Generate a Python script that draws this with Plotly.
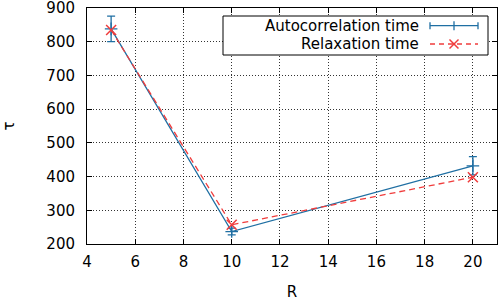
import plotly.graph_objects as go

R = [5, 10, 20]
auto_tau = [838, 237, 432]
auto_err = [38, 10, 27]
relax_tau = [835, 257, 398]
series_names = ["Autocorrelation time", "Relaxation time"]

BLUE = "#1f6fa3"
RED = "#f03c3c"
FONT = "DejaVu Sans, Liberation Sans, Arial, sans-serif"
W, H = 499, 307
ML, MR, MT, MB = 87, 2, 8, 63

fig = go.Figure()
fig.add_trace(go.Scatter(
    x=R, y=auto_tau, name=series_names[0], mode="lines+markers",
    line=dict(color=BLUE, width=1.3),
    marker=dict(symbol="cross-thin", size=9, line=dict(color=BLUE, width=1.3)),
    error_y=dict(type="data", array=auto_err, color=BLUE, thickness=1.3, width=4),
    showlegend=False,
))
fig.add_trace(go.Scatter(
    x=R, y=relax_tau, name=series_names[1], mode="lines+markers",
    line=dict(color=RED, width=1.3, dash="6px,4px"),
    marker=dict(symbol="x-thin", size=10, line=dict(color=RED, width=1.5)),
    showlegend=False,
))

axis_common = dict(
    showline=True, linecolor="black", linewidth=1, mirror="ticks",
    ticks="inside", ticklen=5, tickcolor="black",
    showgrid=True, gridcolor="rgba(0,0,0,0.8)", griddash="1px,2px", gridwidth=1,
    zeroline=False, tickfont=dict(family=FONT, size=15, color="black"),
    automargin=False, ticklabeloverflow="allow",
)
fig.update_xaxes(range=[4, 21], tickvals=[4, 6, 8, 10, 12, 14, 16, 18, 20],
                 title=dict(text="R", font=dict(family=FONT, size=15, color="black"), standoff=16),
                 ticklabelstandoff=4,
                 **axis_common)
fig.update_yaxes(range=[200, 900], tickvals=[200, 300, 400, 500, 600, 700, 800, 900],
                 title=dict(text="τ", font=dict(family=FONT, size=15, color="black"), standoff=57),
                 ticklabelstandoff=8,
                 **axis_common)

# --- gnuplot-style legend (text right-aligned, sample on the right) ---
pw, ph = W - ML - MR, H - MT - MB
def px(x):
    return (x - ML) / pw
def py(y):
    return 1 - (y - MT) / ph

shapes = []
annos = []
line_kw = dict(xref="paper", yref="paper", type="line")
shapes.append(dict(type="rect", xref="paper", yref="paper",
                   x0=px(223), x1=px(488), y0=py(55), y1=py(16),
                   line=dict(color="black", width=1), fillcolor="white", layer="above"))
y1 = 25.7
shapes += [
    dict(**line_kw, x0=px(430), x1=px(478), y0=py(y1), y1=py(y1), line=dict(color=BLUE, width=1.3)),
    dict(**line_kw, x0=px(430), x1=px(430), y0=py(y1 - 3.5), y1=py(y1 + 3.5), line=dict(color=BLUE, width=1.3)),
    dict(**line_kw, x0=px(478), x1=px(478), y0=py(y1 - 3.5), y1=py(y1 + 3.5), line=dict(color=BLUE, width=1.3)),
    dict(**line_kw, x0=px(454), x1=px(454), y0=py(y1 - 4.5), y1=py(y1 + 4.5), line=dict(color=BLUE, width=1.3)),
]
y2 = 44
shapes += [
    dict(**line_kw, x0=px(430), x1=px(478), y0=py(y2), y1=py(y2), line=dict(color=RED, width=1.3, dash="5px,4px")),
    dict(**line_kw, x0=px(449.5), x1=px(458.5), y0=py(y2 - 4.5), y1=py(y2 + 4.5), line=dict(color=RED, width=1.5)),
    dict(**line_kw, x0=px(449.5), x1=px(458.5), y0=py(y2 + 4.5), y1=py(y2 - 4.5), line=dict(color=RED, width=1.5)),
]
for name, yy in zip(series_names, [y1, y2]):
    annos.append(dict(xref="paper", yref="paper", x=px(421), y=py(yy), text=name,
                      xanchor="right", yanchor="middle", showarrow=False,
                      font=dict(family=FONT, size=15, color="black")))

fig.update_layout(
    width=W, height=H,
    margin=dict(l=ML, r=MR, t=MT, b=MB),
    paper_bgcolor="white", plot_bgcolor="white",
    font=dict(family=FONT, size=15, color="black"),
    showlegend=False,
    shapes=shapes, annotations=annos,
)
fig.write_html("out.html", config={"displayModeBar": False},
               post_script="document.body.style.margin='0px';")
